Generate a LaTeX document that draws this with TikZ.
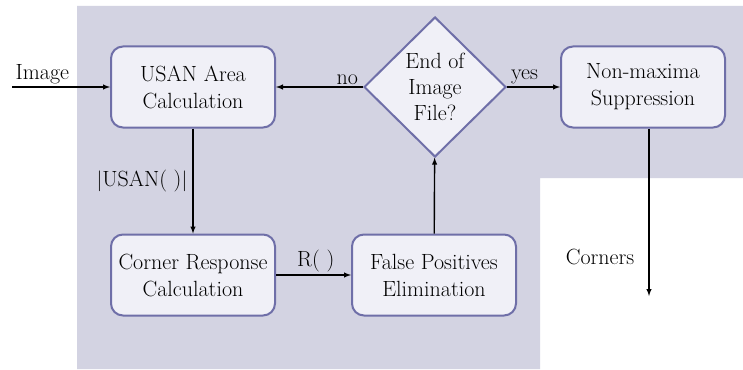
\documentclass[tikz,border=0pt]{standalone}
\usetikzlibrary{shapes.geometric,positioning}
\definecolor{panel}{HTML}{D3D3E2}
\definecolor{boxfill}{HTML}{F0F0F7}
\definecolor{boxline}{HTML}{6F6FA8}
\tikzset{stage/.style={draw=boxline,line width=2pt,rounded corners=12pt,fill=boxfill,minimum width=164pt,minimum height=81pt,align=center,font=\fontsize{22}{27}\selectfont},
         test/.style={draw=boxline,line width=2pt,diamond,aspect=1,inner sep=0pt,fill=boxfill,minimum width=142pt,minimum height=140pt,align=center,font=\fontsize{22}{26}\selectfont},
         flow/.style={black,line width=1.4pt,-latex},
         tag/.style={font=\fontsize{22}{26}\selectfont,inner sep=2pt}}

\begin{document}
\begin{tikzpicture}[x=1pt,y=-1pt]
            \useasboundingbox (0,0) rectangle (743,369);
            \fill [panel] (77,6) -- (743,6) -- (743,178) -- (540,178) -- (540,369) -- (77,369) -- cycle;

            \node (usan) [stage] at (193,87)  {USAN Area\\Calculation};
            \node (resp) [stage] at (193,275) {Corner Response\\Calculation};
            \node (fpe)  [stage] at (434,275) {False Positives\\Elimination};
            \node (eof)  [test]  at (435,87)  {End of\\Image\\File?};
            \node (nms)  [stage] at (643,87)  {Non-maxima\\Suppression};
            \coordinate (in)  at (12,87);
            \coordinate (out) at (649,296);

            \draw [flow] (in)   -- node (imgtag) [tag,above,pos=0.31] {Image} (usan);
            \draw [flow] (eof)  -- node (notag)  [tag,above,pos=0.18] {no} (usan);
            \draw [flow] (eof)  -- node (yestag) [tag,above,pos=0.33] {yes} (nms);
            \draw [flow] (usan) -- node (areatag) [tag,left=3pt,pos=0.5] {$|$USAN( )$|$} (resp);
            \draw [flow] (resp) -- node (rtag)   [tag,above,pos=0.53] {R( )} (fpe);
            \draw [flow] (fpe)  -- (eof);
            \draw [flow] (nms.south -| out) -- node (cortag) [tag,left=12pt,pos=0.77] {Corners} (out);
        \end{tikzpicture}
\end{document}
